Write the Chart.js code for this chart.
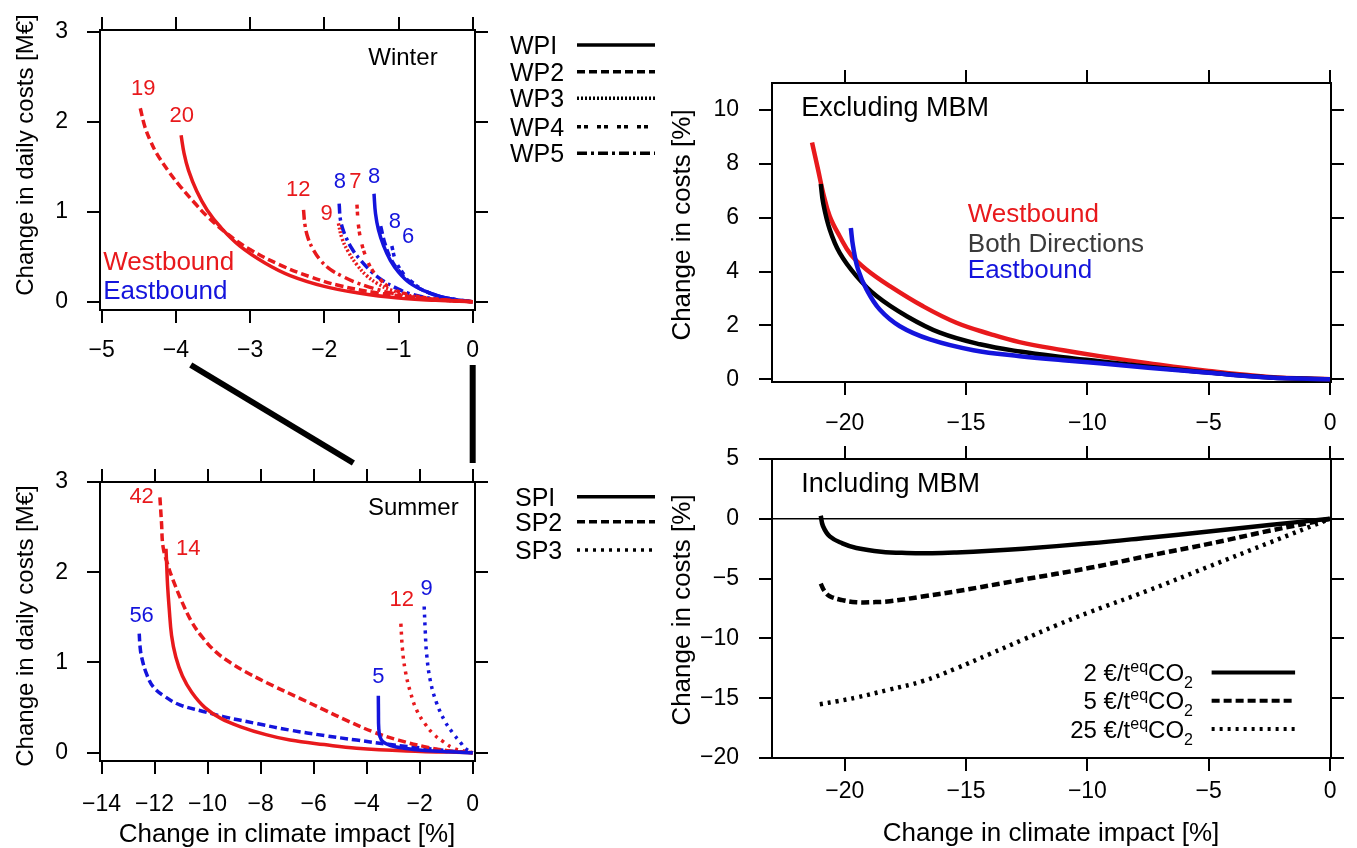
<!DOCTYPE html>
<html><head><meta charset="utf-8">
<script src="https://cdn.jsdelivr.net/npm/chart.js@4.4.1/dist/chart.umd.min.js"></script>
<style>
body{margin:0;width:1357px;height:848px;background:#fff;position:relative;overflow:hidden;font-family:"Liberation Sans",Arial,sans-serif;}
canvas.c{position:absolute;}
.t{position:absolute;white-space:nowrap;color:#000;line-height:1;}
.rot{transform:translate(-50%,-50%) rotate(-90deg);}
.ctr{transform:translate(-50%,-50%);}
.lv{transform:translate(0,-50%);}
</style></head><body>
<canvas id="cw" class="c" width="455" height="356" style="left:40px;top:14px"></canvas>
<canvas id="cs" class="c" width="455" height="355" style="left:40px;top:466px"></canvas>
<canvas id="ce" class="c" width="656" height="375" style="left:695px;top:67px"></canvas>
<canvas id="ci" class="c" width="656" height="375" style="left:695px;top:443px"></canvas>
<canvas id="ov" class="c" width="1357" height="848" style="left:0;top:0;pointer-events:none"></canvas>

<div class="t rot" style="left:25px;top:155px;font-size:24px">Change in daily costs [M€]</div>
<div class="t rot" style="left:25px;top:626px;font-size:24px">Change in daily costs [M€]</div>
<div class="t rot" style="left:681px;top:225px;font-size:26px">Change in costs [%]</div>
<div class="t rot" style="left:681px;top:610px;font-size:26px">Change in costs [%]</div>
<div class="t ctr" style="left:287px;top:833px;font-size:26px">Change in climate impact [%]</div>
<div class="t ctr" style="left:1051px;top:832px;font-size:26px">Change in climate impact [%]</div>

<div id="wpleg"></div>
<svg id="legsvg" width="1357" height="848" style="position:absolute;left:0;top:0;pointer-events:none"></svg>

<script>
// ---------- tick labels ----------
const WINTER_X_TICKS = [-5,-4,-3,-2,-1,0];
const WINTER_Y_TICKS = [0,1,2,3];
const SUMMER_X_TICKS = [-14,-12,-10,-8,-6,-4,-2,0];
const SUMMER_Y_TICKS = [0,1,2,3];
const MBM_X_TICKS = [-20,-15,-10,-5,0];
const EXCL_Y_TICKS = [0,2,4,6,8,10];
const INCL_Y_TICKS = [-20,-15,-10,-5,0,5];

// ---------- Winter series [climate impact %, daily cost M€] ----------
const W_WP2_WEST = [[-4.48,2.15],[-4.42,1.95],[-4.35,1.8],[-4.26,1.65],[-4.1,1.45],[-3.94,1.28],[-3.75,1.1],[-3.58,0.95],[-3.3,0.75],[-3.0,0.58],[-2.6,0.41],[-2.2,0.28],[-1.8,0.18],[-1.3,0.1],[-0.7,0.04],[0,0]];
const W_WP1_WEST = [[-3.93,1.85],[-3.89,1.65],[-3.83,1.46],[-3.72,1.23],[-3.58,1.02],[-3.4,0.83],[-3.14,0.62],[-2.8,0.43],[-2.46,0.29],[-2.0,0.17],[-1.56,0.1],[-1.0,0.04],[-0.5,0.015],[0,0]];
const W_WP5_WEST = [[-2.28,1.02],[-2.26,0.85],[-2.22,0.71],[-2.15,0.58],[-2.05,0.46],[-1.92,0.36],[-1.75,0.28],[-1.56,0.21],[-1.3,0.14],[-1.0,0.08],[-0.6,0.03],[0,0]];
const W_WP3_WEST = [[-1.81,0.87],[-1.76,0.7],[-1.68,0.56],[-1.56,0.41],[-1.43,0.29],[-1.28,0.2],[-1.1,0.13],[-0.8,0.06],[-0.4,0.02],[0,0]];
const W_WP4_WEST = [[-1.56,1.08],[-1.54,0.85],[-1.5,0.66],[-1.44,0.5],[-1.36,0.36],[-1.25,0.25],[-1.1,0.15],[-0.8,0.07],[-0.4,0.02],[0,0]];
const W_WP5_EAST = [[-1.80,1.09],[-1.78,0.9],[-1.72,0.74],[-1.62,0.58],[-1.5,0.45],[-1.36,0.33],[-1.22,0.24],[-1.05,0.16],[-0.85,0.09],[-0.5,0.03],[0,0]];
const W_WP1_EAST = [[-1.33,1.2],[-1.31,0.98],[-1.27,0.8],[-1.2,0.62],[-1.11,0.46],[-1.0,0.33],[-0.85,0.21],[-0.65,0.12],[-0.44,0.06],[-0.2,0.02],[0,0]];
const W_WP2_EAST = [[-1.24,0.84],[-1.18,0.64],[-1.1,0.47],[-0.98,0.33],[-0.83,0.21],[-0.62,0.11],[-0.35,0.04],[0,0]];
const W_WP4_EAST = [[-1.09,0.62],[-1.04,0.46],[-0.95,0.33],[-0.82,0.22],[-0.64,0.12],[-0.4,0.05],[0,0]];

// ---------- Summer series ----------
const S_SP2_WEST = [[-11.8,2.83],[-11.74,2.55],[-11.68,2.28],[-11.5,2.08],[-11.3,1.91],[-10.95,1.66],[-10.6,1.45],[-10.2,1.28],[-9.7,1.12],[-9.1,0.99],[-8.4,0.87],[-7.52,0.74],[-6.5,0.6],[-5.64,0.48],[-4.7,0.35],[-3.75,0.23],[-2.8,0.14],[-1.86,0.07],[-0.9,0.02],[0,0]];
const S_SP1_WEST = [[-11.57,2.26],[-11.54,2.05],[-11.51,1.85],[-11.45,1.6],[-11.36,1.3],[-11.2,1.06],[-10.95,0.85],[-10.6,0.67],[-10.1,0.5],[-9.5,0.38],[-8.78,0.29],[-7.8,0.2],[-6.89,0.14],[-5.6,0.09],[-4.38,0.05],[-2.5,0.02],[0,0]];
const S_SP2_EAST = [[-12.58,1.32],[-12.55,1.18],[-12.49,1.06],[-12.3,0.87],[-12.05,0.73],[-11.6,0.62],[-11.05,0.53],[-10.2,0.46],[-9.41,0.4],[-8.1,0.32],[-6.89,0.25],[-5.6,0.19],[-4.38,0.14],[-3.1,0.09],[-1.86,0.05],[-0.9,0.02],[0,0]];
const S_SP1_EAST = [[-3.56,0.63],[-3.555,0.45],[-3.545,0.28],[-3.5,0.18],[-3.38,0.12],[-3.1,0.08],[-2.6,0.05],[-1.8,0.025],[-0.9,0.01],[0,0]];
const S_SP3_WEST = [[-2.71,1.43],[-2.65,1.15],[-2.55,0.92],[-2.35,0.67],[-2.11,0.47],[-1.8,0.32],[-1.49,0.21],[-1.1,0.12],[-0.73,0.05],[-0.35,0.02],[0,0]];
const S_SP3_EAST = [[-1.83,1.62],[-1.79,1.35],[-1.74,1.1],[-1.6,0.8],[-1.36,0.55],[-1.05,0.35],[-0.73,0.21],[-0.45,0.11],[-0.29,0.05],[0,0]];

// ---------- Excluding MBM [climate impact %, cost %] ----------
const EX_WEST = [[-21.35,8.79],[-21.1,7.78],[-20.89,6.91],[-20.62,6.05],[-20.21,5.31],[-19.75,4.63],[-19.1,4.07],[-18.14,3.46],[-16.77,2.71],[-15.4,2.1],[-14,1.68],[-12.8,1.38],[-11,1.08],[-9.5,0.86],[-7.5,0.6],[-5,0.31],[-2.5,0.09],[0,0]];
const EX_BOTH = [[-20.99,7.25],[-20.89,6.54],[-20.62,5.56],[-20.21,4.69],[-19.52,3.83],[-18.69,3.09],[-17.46,2.35],[-16.08,1.73],[-14.43,1.3],[-12.78,1.03],[-11,0.82],[-9.5,0.67],[-7.5,0.47],[-5,0.25],[-2.5,0.07],[0,0]];
const EX_EAST = [[-19.75,5.62],[-19.66,4.94],[-19.45,4.07],[-19.1,3.33],[-18.56,2.59],[-17.73,1.97],[-16.49,1.48],[-14.7,1.08],[-12.78,0.86],[-11,0.71],[-9.5,0.6],[-7.5,0.43],[-5,0.24],[-2.5,0.07],[0,0]];

// ---------- Including MBM ----------
const IN_2EUR = [[-20.99,0.25],[-20.9,-0.6],[-20.62,-1.47],[-20.1,-2.05],[-19.52,-2.44],[-18.5,-2.75],[-17.46,-2.86],[-16.4,-2.88],[-15.4,-2.82],[-14,-2.68],[-12.65,-2.5],[-9.9,-2.05],[-7.5,-1.58],[-5,-1.07],[-2.5,-0.52],[0,0]];
const IN_5EUR = [[-20.99,-5.42],[-20.85,-6.0],[-20.62,-6.47],[-20.1,-6.8],[-19.52,-6.97],[-18.8,-6.97],[-18.14,-6.89],[-16.8,-6.5],[-15.4,-6.06],[-12.65,-5.08],[-9.9,-4.1],[-7.5,-3.1],[-5,-2.1],[-2.5,-1.0],[0,0]];
const IN_25EUR = [[-21.03,-15.5],[-20.3,-15.25],[-19.52,-14.94],[-18.2,-14.3],[-16.77,-13.56],[-15.4,-12.5],[-14.02,-11.3],[-12.65,-10.1],[-11.27,-8.9],[-9.9,-7.8],[-7.5,-6.0],[-5,-4.0],[-2.5,-2.0],[0,0]];

const WP_NAMES = ['WPI','WP2','WP3','WP4','WP5'];
const SP_NAMES = ['SPI','SP2','SP3'];
const MBM_PRICES = ['2','5','25'];

const FONT = '"Liberation Sans", Arial, sans-serif';
const RED = '#e8191c', BLUE = '#1414dc', BLACK = '#000', GREY = '#3a3a3a';
const DASHES = {solid:[], dashed:[8,4], dotted:[2,2], twodash:[4,3,4,9], dashdot:[10,4,3,4], sdot:[3,5]};
const WP_DASH = ['solid','dashed','dotted','twodash','dashdot'];
const SP_DASH = ['solid','dashed','sdot'];

const fmt = v => v < 0 ? '\u2212' + Math.abs(v) : String(v);
const xy = arr => arr.map(p => ({x:p[0], y:p[1]}));
function ds(arr, color, dash, width){
  return {data: xy(arr), borderColor: color, borderWidth: width, borderDash: DASHES[dash],
    pointRadius: 0, showLine: true, tension: 0.4, fill: false, borderCapStyle: 'butt'};
}
function mkAxis(axis, pos, min, max, ticks, size, show, pad){
  return {type:'linear', axis, position:pos, min, max,
    afterBuildTicks: s => { s.ticks = ticks.map(v => ({value:v})); },
    afterFit: s => {
      if (axis === 'y') s.width = size; else s.height = size;
      s.paddingTop = 0; s.paddingBottom = 0; s.paddingLeft = 0; s.paddingRight = 0;
    },
    ticks:{display:show, autoSkip:false, maxRotation:0, padding:pad, color:'#000', font:{family:FONT, size:23}, callback: v => fmt(v)},
    grid:{display:true, drawOnChartArea:false, drawTicks:true, tickLength:13, color:'#000', lineWidth:2},
    border:{display:true, color:'#000', width:2}};
}
function scales(c){
  return {
    x: mkAxis('x','bottom',c.xmin,c.xmax,c.xticks,c.bottom,true,c.xpad),
    x2: mkAxis('x','top',c.xmin,c.xmax,c.xticks,c.top,false,0),
    y: mkAxis('y','left',c.ymin,c.ymax,c.yticks,c.left,true,c.ypad),
    y2: mkAxis('y','right',c.ymin,c.ymax,c.yticks,c.right,false,0)
  };
}
function textPlugin(items, extra){
  return {id:'txt', afterDatasetsDraw(chart){
    const ctx = chart.ctx, xs = chart.scales.x, ys = chart.scales.y;
    if (extra) extra(chart);
    items.forEach(it => {
      ctx.save();
      ctx.font = (it.size || 22) + 'px ' + FONT;
      ctx.fillStyle = it.color || '#000';
      ctx.textAlign = it.align || 'center';
      ctx.textBaseline = 'middle';
      ctx.fillText(it.text, xs.getPixelForValue(it.x), ys.getPixelForValue(it.y));
      ctx.restore();
    });
  }};
}
function makeChart(id, datasets, sc, items, extra){
  return new Chart(document.getElementById(id), {
    type:'scatter',
    data:{datasets},
    options:{responsive:false, animation:false, events:[],
      layout:{padding:0},
      plugins:{legend:{display:false}, tooltip:{enabled:false}},
      scales: scales(sc)},
    plugins:[textPlugin(items, extra)]
  });
}

// ---------- Winter ----------
const cw = makeChart('cw', [
  ds(W_WP2_WEST, RED, 'dashed', 3.5),
  ds(W_WP1_WEST, RED, 'solid', 3.5),
  ds(W_WP5_WEST, RED, 'dashdot', 3.5),
  ds(W_WP3_WEST, RED, 'dotted', 3.5),
  ds(W_WP4_WEST, RED, 'twodash', 3.5),
  ds(W_WP5_EAST, BLUE, 'dashdot', 3.5),
  ds(W_WP1_EAST, BLUE, 'solid', 3.5),
  ds(W_WP2_EAST, BLUE, 'dashed', 3.5),
  ds(W_WP4_EAST, BLUE, 'twodash', 3.5)
], {xmin:-5.023, xmax:0.031, xticks:WINTER_X_TICKS, ymin:-0.092, ymax:3.02, yticks:WINTER_Y_TICKS,
    left:60, right:20, top:16, bottom:60, xpad:14, ypad:19},
[
  {text:'Winter', x:-0.94, y:2.70, size:24},
  {text:'19', x:-4.44, y:2.37, color:RED},
  {text:'20', x:-3.92, y:2.06, color:RED},
  {text:'12', x:-2.35, y:1.24, color:RED},
  {text:'9', x:-1.97, y:0.98, color:RED},
  {text:'8', x:-1.79, y:1.33, color:BLUE},
  {text:'7', x:-1.58, y:1.33, color:RED},
  {text:'8', x:-1.33, y:1.39, color:BLUE},
  {text:'8', x:-1.05, y:0.89, color:BLUE},
  {text:'6', x:-0.87, y:0.72, color:BLUE},
  {text:'Westbound', x:-4.98, y:0.43, color:RED, align:'left', size:26},
  {text:'Eastbound', x:-4.98, y:0.11, color:BLUE, align:'left', size:26}
]);

// ---------- Summer ----------
const cs = makeChart('cs', [
  ds(S_SP1_EAST, BLUE, 'solid', 3.5),
  ds(S_SP3_EAST, BLUE, 'sdot', 3.5),
  ds(S_SP2_WEST, RED, 'dashed', 3.5),
  ds(S_SP1_WEST, RED, 'solid', 3.5),
  ds(S_SP3_WEST, RED, 'sdot', 3.5),
  ds(S_SP2_EAST, BLUE, 'dashed', 3.5)
], {xmin:-14.06, xmax:0.087, xticks:SUMMER_X_TICKS, ymin:-0.092, ymax:3.0, yticks:SUMMER_Y_TICKS,
    left:60, right:20, top:16, bottom:60, xpad:17, ypad:19},
[
  {text:'Summer', x:-2.24, y:2.71, size:24},
  {text:'42', x:-12.49, y:2.83, color:RED},
  {text:'14', x:-10.73, y:2.26, color:RED},
  {text:'56', x:-12.49, y:1.52, color:BLUE},
  {text:'12', x:-2.68, y:1.69, color:RED},
  {text:'9', x:-1.74, y:1.82, color:BLUE},
  {text:'5', x:-3.56, y:0.84, color:BLUE}
]);

// ---------- Excluding MBM ----------
const ce = makeChart('ce', [
  ds(EX_EAST, BLUE, 'solid', 4.5),
  ds(EX_BOTH, BLACK, 'solid', 4.5),
  ds(EX_WEST, RED, 'solid', 4.5)
], {xmin:-23.0, xmax:0.04, xticks:MBM_X_TICKS, ymin:-0.1, ymax:11.0, yticks:EXCL_Y_TICKS,
    left:77, right:20, top:16, bottom:60, xpad:15, ypad:20},
[
  {text:'Excluding MBM', x:-21.79, y:10.07, align:'left', size:27},
  {text:'Westbound', x:-14.93, y:6.11, color:RED, align:'left', size:26},
  {text:'Both Directions', x:-14.93, y:5.0, color:GREY, align:'left', size:26},
  {text:'Eastbound', x:-14.93, y:4.01, color:BLUE, align:'left', size:26}
]);

// ---------- Including MBM ----------
const LEG_ROWS = [-12.86, -15.22, -17.58];
function mbmLegend(chart){
  const ctx = chart.ctx, xs = chart.scales.x, ys = chart.scales.y;
  ctx.save();
  ctx.strokeStyle = '#000'; ctx.lineWidth = 1.5;
  const y0 = ys.getPixelForValue(0);
  ctx.beginPath(); ctx.moveTo(chart.chartArea.left, y0); ctx.lineTo(chart.chartArea.right, y0); ctx.stroke();
  ctx.restore();
  const dashes = ['solid','dashed','sdot'];
  const xr = xs.getPixelForValue(-5.65);
  const lx1 = xs.getPixelForValue(-4.88), lx2 = xs.getPixelForValue(-1.44);
  MBM_PRICES.forEach((p, i) => {
    const yc = ys.getPixelForValue(LEG_ROWS[i]);
    const parts = [[p + ' \u20AC/t', 24, 0], ['eq', 16, -9], ['CO', 24, 0], ['2', 16, 7]];
    ctx.save();
    ctx.fillStyle = '#000'; ctx.textBaseline = 'alphabetic'; ctx.textAlign = 'left';
    let w = 0;
    parts.forEach(pt => { ctx.font = pt[1] + 'px ' + FONT; w += ctx.measureText(pt[0]).width; });
    let x = xr - w;
    const base = yc + 8.5;
    parts.forEach(pt => { ctx.font = pt[1] + 'px ' + FONT; ctx.fillText(pt[0], x, base + pt[2]); x += ctx.measureText(pt[0]).width; });
    ctx.strokeStyle = '#000'; ctx.lineWidth = 4; ctx.setLineDash(DASHES[dashes[i]]);
    ctx.beginPath(); ctx.moveTo(lx1, yc); ctx.lineTo(lx2, yc); ctx.stroke();
    ctx.restore();
  });
}
const ci = makeChart('ci', [
  ds(IN_2EUR, BLACK, 'solid', 4.5),
  ds(IN_5EUR, BLACK, 'dashed', 4.5),
  ds(IN_25EUR, BLACK, 'sdot', 4.5)
], {xmin:-23.0, xmax:0.04, xticks:MBM_X_TICKS, ymin:-20, ymax:5, yticks:INCL_Y_TICKS,
    left:77, right:20, top:16, bottom:60, xpad:7, ypad:20},
[
  {text:'Including MBM', x:-21.79, y:2.83, align:'left', size:27}
], mbmLegend);

// ---------- WP / SP legends ----------
(function(){
  const leg = document.getElementById('wpleg');
  const svg = document.getElementById('legsvg');
  const NS = 'http://www.w3.org/2000/svg';
  function row(name, dash, left, y){
    const d = document.createElement('div');
    d.className = 't lv'; d.style.left = left + 'px'; d.style.top = y + 'px'; d.style.fontSize = '25px';
    d.textContent = name; leg.appendChild(d);
    const l = document.createElementNS(NS, 'line');
    l.setAttribute('x1', 577); l.setAttribute('x2', 655); l.setAttribute('y1', y); l.setAttribute('y2', y);
    l.setAttribute('stroke', '#000'); l.setAttribute('stroke-width', 3.5);
    if (DASHES[dash].length) l.setAttribute('stroke-dasharray', DASHES[dash].join(' '));
    svg.appendChild(l);
  }
  const wpY = [45, 71.7, 98.3, 126.7, 153.3];
  WP_NAMES.forEach((n, i) => row(n, WP_DASH[i], 510, wpY[i]));
  const spY = [496.7, 521.7, 550];
  SP_NAMES.forEach((n, i) => row(n, SP_DASH[i], 515, spY[i]));
})();

// ---------- connector lines between winter and summer panels ----------
(function(){
  const ov = document.getElementById('ov').getContext('2d');
  const wl = 40, sl = 40;
  ov.strokeStyle = '#000'; ov.lineWidth = 6; ov.lineCap = 'butt';
  ov.beginPath();
  ov.moveTo(wl + cw.scales.x.getPixelForValue(-3.8), 365);
  ov.lineTo(sl + cs.scales.x.getPixelForValue(-4.5), 463);
  ov.stroke();
  ov.beginPath();
  ov.moveTo(wl + cw.scales.x.getPixelForValue(0), 365);
  ov.lineTo(sl + cs.scales.x.getPixelForValue(0), 463);
  ov.stroke();
})();
</script>
</body></html>
